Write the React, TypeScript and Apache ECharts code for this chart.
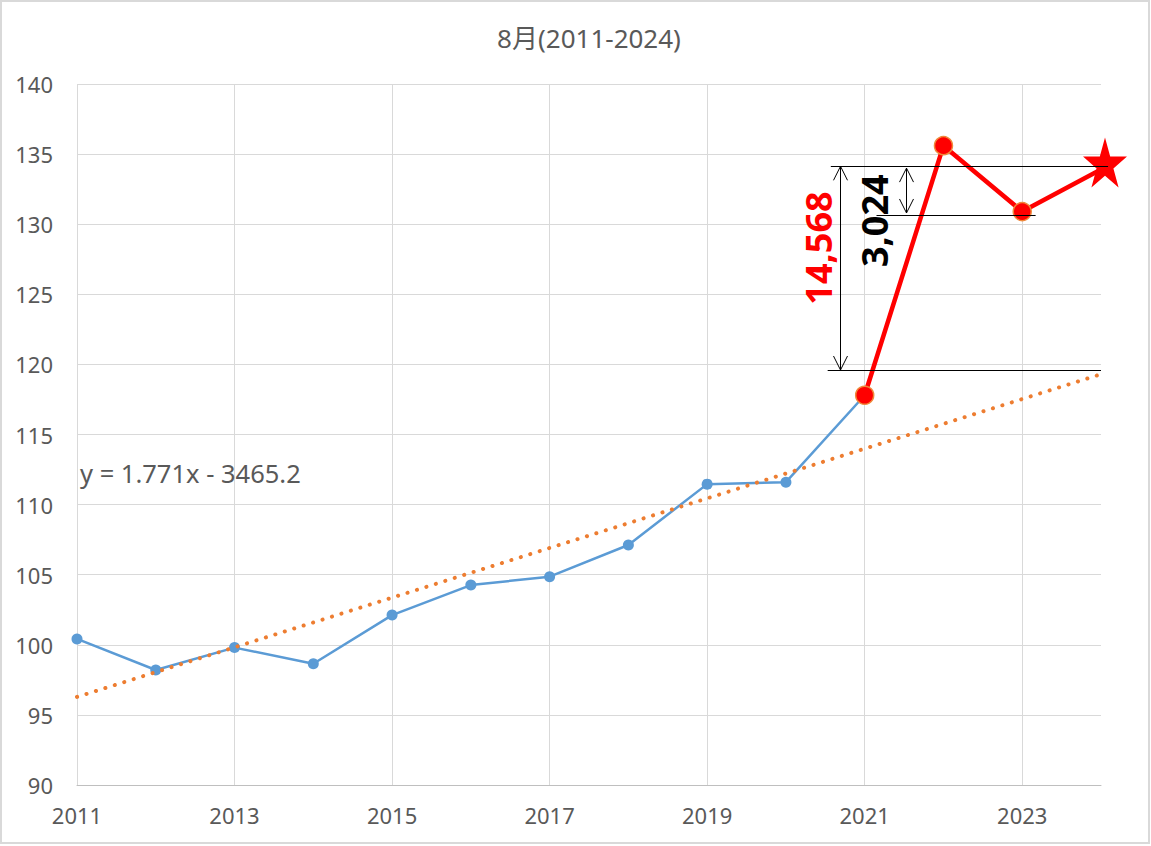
import React, { useEffect, useRef } from 'react';
import * as echarts from 'echarts';

// ---- data ----
const chartTitle = '8月(2011-2024)';
const years = ['2011', '2012', '2013', '2014', '2015', '2016', '2017', '2018', '2019', '2020', '2021', '2022', '2023', '2024'];
const baseValues: (number | null)[] = [100.42, 98.2, 99.8, 98.65, 102.12, 104.26, 104.86, 107.12, 111.46, 111.6, 117.8, null, null, null];
const recentValues: (number | null)[] = [null, null, null, null, null, null, null, null, null, null, 117.8, 135.6, 130.9, 133.9];
const trendYears = [2011, 2024];
const trendValues = [96.28, 119.3];
const trendLabel = 'y = 1.771x - 3465.2';
const yMin = 90;
const yMax = 140;
const yStep = 5;

// annotation levels (year span, value)
const gapLevels = [
  { from: 2020.57, to: 2024.09, value: 134.13 },
  { from: 2020.53, to: 2024.0, value: 119.6 },
  { from: 2021.15, to: 2023.17, value: 130.65 },
];
const gapArrows = [
  { x: 2020.69, top: 134.13, bottom: 119.6 },
  { x: 2021.53, top: 134.0, bottom: 130.8 },
];
const gapLabels = [
  { text: '14,568', x: 2020.41, y: 128.3, color: '#ff0000' },
  { text: '3,024', x: 2021.13, y: 130.25, color: '#000000' },
];

const STAR =
  'path://M50,0 L61.2,34.5 L97.6,34.5 L68.2,55.9 L79.4,90.5 L50,69.1 L20.6,90.5 L31.8,55.9 L2.4,34.5 L38.8,34.5 Z';

const FONT = "'Noto Sans', 'Noto Sans CJK SC', sans-serif";
const GRAY = '#595959';

export default function App() {
  const ref = useRef<HTMLDivElement>(null);

  useEffect(() => {
    if (!ref.current) return;
    const chart = echarts.init(ref.current, null, { renderer: 'svg' });

    const lastIdx = years.length - 1;
    const recentData = recentValues.map((v, i) =>
      i === lastIdx && v != null
        ? {
            value: v,
            symbol: STAR,
            symbolSize: [44, 50],
            symbolOffset: [4, -7],
            symbolKeepAspect: false,
            itemStyle: { color: '#ff0000', borderWidth: 0 },
          }
        : v
    );

    const option: any = {
      animation: false,
      backgroundColor: '#ffffff',
      title: {
        text: chartTitle,
        left: 589,
        top: 25,
        textAlign: 'center',
        padding: 0,
        textStyle: { color: GRAY, fontSize: 26, fontWeight: 'normal', fontFamily: FONT },
      },
      grid: { left: 77, right: 50, top: 84, bottom: 61, containLabel: false },
      xAxis: [
        {
          type: 'category',
          data: years,
          boundaryGap: false,
          axisLine: { show: true, lineStyle: { color: '#bfbfbf', width: 1 } },
          axisTick: { show: false },
          axisLabel: {
            interval: 1,
            color: GRAY,
            fontSize: 22,
            fontFamily: FONT,
            margin: 19,
          },
          splitLine: {
            show: true,
            interval: (i: number) => i % 2 === 0 && i < years.length - 1,
            lineStyle: { color: '#d9d9d9', width: 1 },
          },
        },
        {
          type: 'value',
          min: 2011,
          max: 2024,
          show: false,
          splitLine: { show: false },
        },
      ],
      yAxis: {
        type: 'value',
        min: yMin,
        max: yMax,
        interval: yStep,
        axisLine: { show: false },
        axisTick: { show: false },
        axisLabel: { color: GRAY, fontSize: 22, fontFamily: FONT, margin: 24 },
        splitLine: { show: true, lineStyle: { color: '#d9d9d9', width: 1 } },
      },
      graphic: [
        {
          type: 'rect',
          shape: { x: 1, y: 1, width: 1148, height: 842 },
          style: { fill: 'none', stroke: '#d9d9d9', lineWidth: 2 },
          silent: true,
          z: 100,
        },
        {
          type: 'text',
          x: 80,
          y: 473,
          style: {
            text: trendLabel,
            fill: GRAY,
            fontSize: 25.5,
            fontFamily: FONT,
            verticalAlign: 'middle',
            align: 'left',
          },
          z: 100,
        },
      ],
      series: [
        {
          name: 'base',
          type: 'line',
          xAxisIndex: 0,
          data: baseValues,
          symbol: 'circle',
          symbolSize: 11,
          lineStyle: { color: '#5b9bd5', width: 2.5 },
          itemStyle: { color: '#5b9bd5' },
          emphasis: { disabled: true },
          z: 2,
        },
        {
          name: 'trend',
          type: 'line',
          xAxisIndex: 1,
          data: trendYears.map((y, i) => [y, trendValues[i]]),
          symbol: 'none',
          lineStyle: { color: '#ed7d31', width: 4, type: [0.1, 9.8], cap: 'round' },
          emphasis: { disabled: true },
          z: 3,
        },
        {
          name: 'recent',
          type: 'line',
          xAxisIndex: 0,
          data: recentData,
          symbol: 'circle',
          symbolSize: 18,
          clip: false,
          lineStyle: { color: '#ff0000', width: 4.5 },
          itemStyle: { color: '#ff0000', borderColor: '#f0883a', borderWidth: 1.5 },
          emphasis: { disabled: true },
          z: 4,
        },
        {
          name: 'levels',
          type: 'custom',
          xAxisIndex: 1,
          clip: false,
          silent: true,
          data: gapLevels.map((l) => [l.from, l.to, l.value]),
          renderItem: (params: any, api: any) => {
            const p1 = api.coord([api.value(0), api.value(2)]);
            const p2 = api.coord([api.value(1), api.value(2)]);
            return {
              type: 'line',
              shape: { x1: p1[0], y1: Math.round(p1[1]) + 0.5, x2: p2[0], y2: Math.round(p2[1]) + 0.5 },
              style: { stroke: '#000000', lineWidth: 1 },
            };
          },
          z: 5,
        },
        {
          name: 'arrows',
          type: 'custom',
          xAxisIndex: 1,
          clip: false,
          silent: true,
          data: gapArrows.map((a) => [a.x, a.top, a.bottom]),
          renderItem: (params: any, api: any) => {
            const t = api.coord([api.value(0), api.value(1)]);
            const b = api.coord([api.value(0), api.value(2)]);
            const x = Math.round(t[0]) + 0.5;
            const hw = 7;
            const hh = 14;
            return {
              type: 'group',
              children: [
                {
                  type: 'line',
                  shape: { x1: x, y1: t[1], x2: x, y2: b[1] },
                  style: { stroke: '#000000', lineWidth: 1 },
                },
                {
                  type: 'polyline',
                  shape: { points: [[x - hw, t[1] + hh], [x, t[1]], [x + hw, t[1] + hh]] },
                  style: { stroke: '#000000', lineWidth: 1, fill: 'none' },
                },
                {
                  type: 'polyline',
                  shape: { points: [[x - hw, b[1] - hh], [x, b[1]], [x + hw, b[1] - hh]] },
                  style: { stroke: '#000000', lineWidth: 1, fill: 'none' },
                },
              ],
            };
          },
          z: 5,
        },
        {
          name: 'labels',
          type: 'custom',
          xAxisIndex: 1,
          clip: false,
          silent: true,
          data: gapLabels.map((l) => [l.x, l.y]),
          renderItem: (params: any, api: any) => {
            const p = api.coord([api.value(0), api.value(1)]);
            const lab = gapLabels[params.dataIndex];
            return {
              type: 'text',
              x: p[0],
              y: p[1],
              rotation: Math.PI / 2,
              style: {
                text: lab.text,
                fill: lab.color,
                fontSize: 36,
                fontWeight: 'bold',
                fontFamily: FONT,
                align: 'center',
                verticalAlign: 'middle',
              },
            };
          },
          z: 6,
        },
      ],
    };

    chart.setOption(option);
    return () => {
      chart.dispose();
    };
  }, []);

  return (
    <div
      ref={ref}
      style={{ position: 'fixed', left: 0, top: 0, width: 1151, height: 846, background: '#ffffff' }}
    />
  );
}
